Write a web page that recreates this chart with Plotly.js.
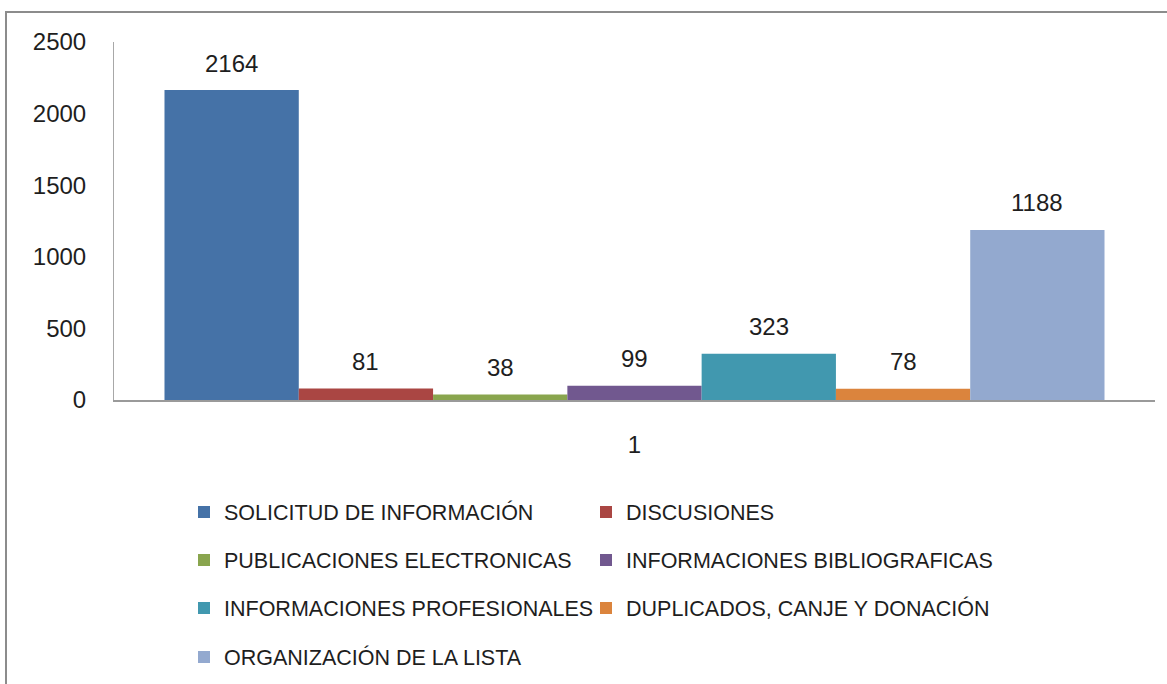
<!DOCTYPE html>
<html>
<head>
<meta charset="utf-8">
<script src="https://cdn.plot.ly/plotly-3.0.1.min.js"></script>
<style>
  html, body { margin: 0; padding: 0; background: #fff; overflow: hidden; }
  #chart { width: 1167px; height: 684px; }
  #frame { position: absolute; left: 5px; top: 11px; width: 1300px; height: 800px;
           border-left: 2px solid #8c8c8c; border-top: 2px solid #8c8c8c; pointer-events: none; }
</style>
</head>
<body>
<div id="chart"></div>
<div id="frame"></div>
<script>
// ---- data ----
const categories = ['1'];
const seriesNames = [
  'SOLICITUD DE INFORMACIÓN',
  'DISCUSIONES',
  'PUBLICACIONES ELECTRONICAS',
  'INFORMACIONES BIBLIOGRAFICAS',
  'INFORMACIONES PROFESIONALES',
  'DUPLICADOS, CANJE Y DONACIÓN',
  'ORGANIZACIÓN DE LA LISTA'
];
const seriesValues = [2164, 81, 38, 99, 323, 78, 1188];
const yTickValues = [0, 500, 1000, 1500, 2000, 2500];

// ---- styles ----
const seriesColors = ['#4572A7', '#AA4643', '#89A54E', '#71588F', '#4198AF', '#DB843D', '#93A9CF'];
const FONT = '"Liberation Sans", Arial, sans-serif';
const TEXT = '#1e1e1e';
const bargap = 0.097;

const W = 1167, H = 684;
const M = { l: 114, r: 12, t: 42, b: 284, autoexpand: false };
const plotW = W - M.l - M.r, plotH = H - M.t - M.b;
const px2x = px => (px - M.l) / plotW;
const px2y = py => (H - M.b - py) / plotH;

const legendIds = seriesNames.map((_, i) => i === 0 ? 'legend' : 'legend' + (i + 1));

const traces = seriesNames.map((name, i) => ({
  type: 'bar',
  name: name,
  x: categories,
  y: [seriesValues[i]],
  marker: { color: seriesColors[i], line: { width: 0 } },
  legend: legendIds[i],
  hoverinfo: 'name+y'
}));

// data labels above bars (positioned through the axis scale)
const n = seriesNames.length;
const barW = (1 - bargap) / n;
const annotations = [];
seriesValues.forEach((v, i) => {
  annotations.push({
    xref: 'x', yref: 'y',
    x: 0 + (i - (n - 1) / 2) * barW,
    y: v,
    text: String(v),
    showarrow: false,
    yanchor: 'middle',
    yshift: 27,
    font: { family: FONT, size: 24, color: TEXT }
  });
});

// legend rows: two columns
const colX = [184, 586];
const rowY = [512, 560, 608, 657];
const layout = {
  width: W, height: H,
  margin: M,
  paper_bgcolor: '#ffffff',
  plot_bgcolor: '#ffffff',
  barmode: 'group',
  bargap: bargap,
  font: { family: FONT, color: TEXT },
  xaxis: {
    type: 'category',
    range: [-0.5, 0.5],
    showline: true, linecolor: '#9a9a9a', linewidth: 2,
    showgrid: false, zeroline: false,
    ticks: '', ticklabelstandoff: 22,
    tickfont: { family: FONT, size: 24, color: TEXT },
    fixedrange: true
  },
  yaxis: {
    range: [0, 2500],
    tickvals: yTickValues,
    ticktext: yTickValues.map(String),
    showline: true, linecolor: '#a8a8a8', linewidth: 1,
    showgrid: false, zeroline: false,
    ticks: '', ticklabelstandoff: 22,
    tickfont: { family: FONT, size: 24, color: TEXT },
    fixedrange: true
  },
  annotations: annotations,
  showlegend: true
};

legendIds.forEach((id, i) => {
  const col = i % 2, row = Math.floor(i / 2);
  layout[id] = {
    x: px2x(colX[col]),
    y: px2y(rowY[row]),
    xanchor: 'left',
    yanchor: 'middle',
    orientation: 'h',
    bgcolor: 'rgba(0,0,0,0)',
    borderwidth: 0,
    font: { family: FONT, size: 21.5, color: TEXT }
  };
});

Plotly.newPlot('chart', traces, layout, { displayModeBar: false, staticPlot: true });
</script>
</body>
</html>
